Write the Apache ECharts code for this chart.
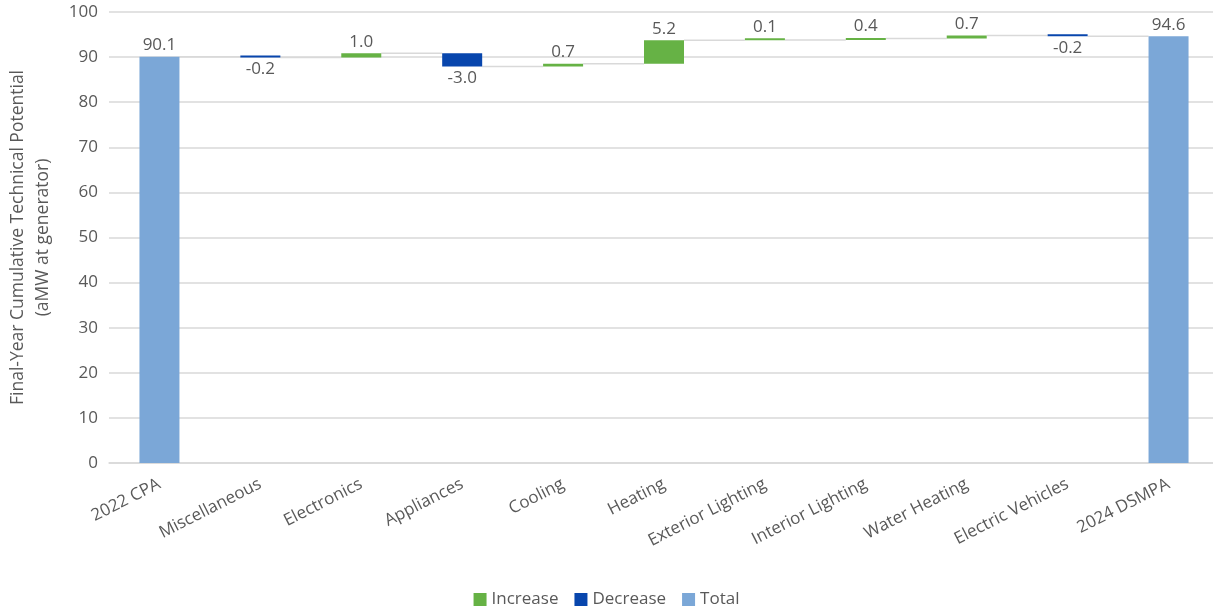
<!DOCTYPE html>
<html>
<head>
<meta charset="utf-8">
<script src="https://cdn.jsdelivr.net/npm/echarts@6/dist/echarts.min.js"></script>
<style>
  html, body { margin: 0; padding: 0; background: #fff; }
  #chart { width: 1213px; height: 608px; }
</style>
</head>
<body>
<div id="chart"></div>
<script>
var categories = ['2022 CPA', 'Miscellaneous', 'Electronics', 'Appliances', 'Cooling', 'Heating',
    'Exterior Lighting', 'Interior Lighting', 'Water Heating', 'Electric Vehicles', '2024 DSMPA'];
// changes between the two totals (labels are shown rounded to one decimal)
var startTotal = 90.1;
var changes = [-0.2, 0.96, -2.97, 0.66, 5.16, 0.08, 0.36, 0.65, -0.18];
var endTotal = 94.6;
var yTicks = [0, 10, 20, 30, 40, 50, 60, 70, 80, 90, 100];

var chart = echarts.init(document.getElementById('chart'));

// build stacked series from the values
var base = [0], inc = ['-'], dec = ['-'], tot = [startTotal];
var levels = [startTotal];
var running = startTotal;
changes.forEach(function (c) {
    var next = running + c;
    base.push(Math.min(running, next));
    inc.push(c > 0 ? c : '-');
    dec.push(c < 0 ? -c : '-');
    tot.push('-');
    running = next;
    levels.push(running);
});
base.push(0); inc.push('-'); dec.push('-'); tot.push(endTotal);
// connectors: from bar i to bar i+1 at the level reached after bar i
var connectors = [];
for (var i = 0; i < categories.length - 1; i++) {
    connectors.push([i, levels[i]]);
}

var txt = '#595959';
var fontFam = '"Open Sans", "Noto Sans", sans-serif';

var option = {
    animation: false,
    textStyle: { fontFamily: fontFam },
    grid: { left: 109, width: 1110, top: 12, bottom: 145, containLabel: false, outerBoundsMode: 'none' },
    legend: {
        data: ['Increase', 'Decrease', 'Total'],
        top: 586,
        left: 'center',
        itemWidth: 13,
        itemHeight: 13,
        itemGap: 16,
        icon: 'rect',
        textStyle: { color: txt, fontSize: 17, fontFamily: fontFam }
    },
    xAxis: {
        type: 'category',
        data: categories,
        axisLine: { lineStyle: { color: '#d9d9d9', width: 1.5 } },
        axisTick: { show: false },
        axisLabel: { color: txt, fontSize: 17, rotate: 27, interval: 0, margin: 20, fontFamily: fontFam }
    },
    yAxis: {
        type: 'value',
        min: yTicks[0],
        max: yTicks[yTicks.length - 1],
        interval: 10,
        name: 'Final-Year Cumulative Technical Potential\n(aMW at generator)',
        nameLocation: 'middle',
        nameGap: 53,
        nameTextStyle: { color: txt, fontSize: 17.5, lineHeight: 25, fontFamily: fontFam },
        axisLabel: { color: txt, fontSize: 17, margin: 11, fontFamily: fontFam },
        splitLine: { lineStyle: { color: '#d9d9d9', width: 1.5 } },
        axisLine: { show: false },
        axisTick: { show: false }
    },
    series: [
        {
            name: 'base',
            type: 'bar',
            stack: 'w',
            barWidth: 40,
            itemStyle: { color: 'transparent' },
            data: base,
            silent: true
        },
        {
            name: 'Increase',
            type: 'bar',
            stack: 'w',
            barMinHeight: 2,
            itemStyle: { color: '#66b245' },
            label: {
                show: true, position: 'top', color: txt, fontSize: 17, distance: 3,
                formatter: function (p) { return p.value.toFixed(1); }
            },
            data: inc
        },
        {
            name: 'Decrease',
            type: 'bar',
            stack: 'w',
            barMinHeight: 2,
            itemStyle: { color: '#0846ad' },
            label: {
                show: true, position: 'bottom', color: txt, fontSize: 17, distance: 3,
                formatter: function (p) { return '-' + p.value.toFixed(1); }
            },
            data: dec
        },
        {
            name: 'Total',
            type: 'bar',
            stack: 'w',
            itemStyle: { color: '#7ba7d7' },
            label: {
                show: true, position: 'top', color: txt, fontSize: 17, distance: 3,
                formatter: function (p) { return p.value.toFixed(1); }
            },
            data: tot
        },
        {
            name: 'connector',
            type: 'custom',
            silent: true,
            z: 1,
            renderItem: function (params, api) {
                var a = api.coord([api.value(0), api.value(1)]);
                var b = api.coord([api.value(0) + 1, api.value(1)]);
                return {
                    type: 'line',
                    shape: { x1: a[0] + 20, y1: a[1], x2: b[0] - 20, y2: b[1] },
                    style: { stroke: '#d9d9d9', lineWidth: 1.5 }
                };
            },
            encode: { x: 0, y: 1 },
            data: connectors
        }
    ]
};

chart.setOption(option);
</script>
</body>
</html>
